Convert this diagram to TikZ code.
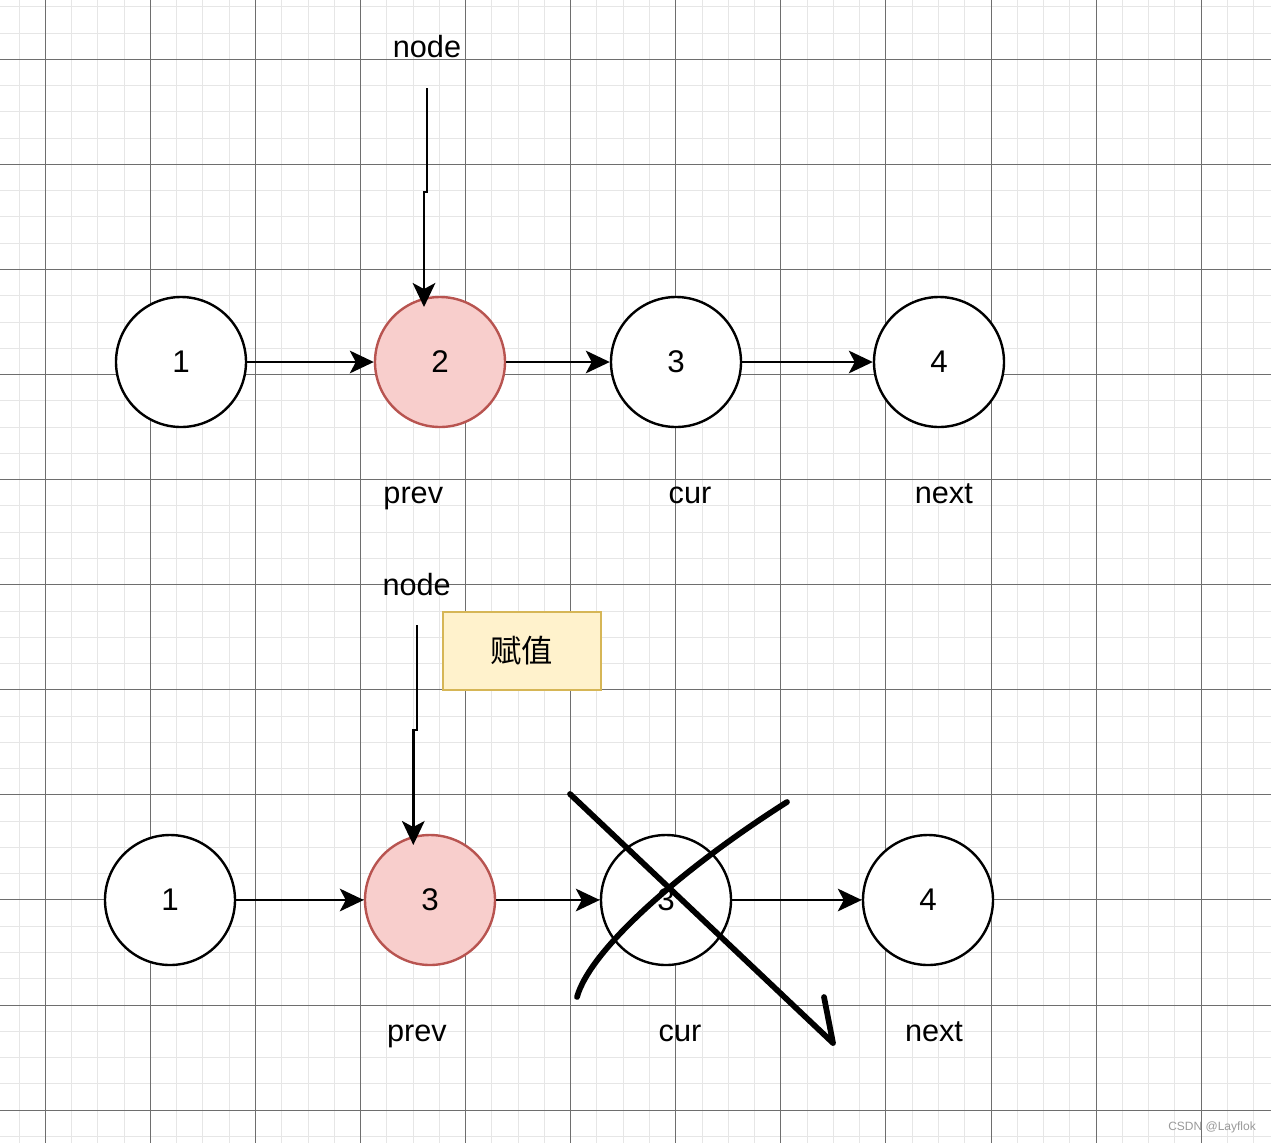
\documentclass[tikz,border=0pt]{standalone}
\usepackage{fontspec}
\setmainfont{Liberation Sans}
\newfontfamily\cjkfont{Noto Sans CJK SC}
\usetikzlibrary{arrows.meta}
\definecolor{pinkfill}{HTML}{F8CECC}
\definecolor{pinkdraw}{HTML}{B85450}
\definecolor{yfill}{HTML}{FFF2CC}
\definecolor{ydraw}{HTML}{D6B656}
\definecolor{minorc}{HTML}{E6E6E6}
\definecolor{majorc}{HTML}{6E6E6E}
\begin{document}
\begin{tikzpicture}[x=0.75pt,y=-0.75pt,
  minorgrid/.style={draw=minorc, line width=0.75pt},
  majorgrid/.style={draw=majorc, line width=0.7pt},
  llnode/.style={circle, draw=black, line width=1.8pt, fill=white, minimum size=97.5pt, inner sep=0pt, font=\fontsize{23.5}{27}\selectfont},
  pinknode/.style={llnode, fill=pinkfill, draw=pinkdraw},
  arr/.style={-{Stealth[length=18pt,width=17pt,inset=4.5pt]}, line width=1.8pt},
  lbl/.style={font=\fontsize{23}{27}\selectfont, anchor=base, inner sep=0pt},
  boxsty/.style={draw=ydraw, fill=yfill, line width=1.8pt, minimum width=118.5pt, minimum height=58.5pt, inner sep=0pt, font=\fontsize{23.5}{27}\selectfont\cjkfont},
  cross/.style={line width=4.3pt, line cap=round, line join=round}
]
\useasboundingbox (0,0) rectangle (1271,1143);
\fill[white] (0,0) rectangle (1271,1143);
\begin{scope}
\clip (0,0) rectangle (1271,1143);
\foreach \i in {0,...,48} {\draw[minorgrid] ({19.03+26.27*\i},0) -- ({19.03+26.27*\i},1143);}
\foreach \i in {0,...,43} {\draw[minorgrid] (0,{6.8+26.27*\i}) -- (1271,{6.8+26.27*\i});}
\foreach \i in {0,...,11} {\draw[majorgrid] ({45.3+105.08*\i},0) -- ({45.3+105.08*\i},1143);}
\foreach \i in {0,...,10} {\draw[majorgrid] (0,{59.3+105.08*\i}) -- (1271,{59.3+105.08*\i});}
\end{scope}

% ---- row 1
\node[llnode] (a1) at (181,362) {1};
\node[pinknode] (a2) at (440,362) {2};
\node[llnode] (a3) at (676,362) {3};
\node[llnode] (a4) at (939,362) {4};
\draw[arr] (a1) -- (a2);
\draw[arr] (a2) -- (a3);
\draw[arr] (a3) -- (a4);
\node[lbl] (nl1) at (427,57.3) {node};
\node[lbl] (p1) at (413.3,503.3) {prev};
\node[lbl] (c1) at (690,503.3) {cur};
\node[lbl] (x1) at (943.8,503.3) {next};
\coordinate (s1) at (427,88);
\coordinate (e1) at (424,307);
\draw[arr] (s1) -- (427,192) -- (424,192) -- (e1);

% ---- row 2
\node[llnode] (b1) at (170,900) {1};
\node[pinknode] (b2) at (430,900) {3};
\node[llnode] (b3) at (666,900) {3};
\node[llnode] (b4) at (928,900) {4};
\draw[arr] (b1) -- (b2);
\draw[arr] (b2) -- (b3);
\draw[arr] (b3) -- (b4);
\node[lbl] (nl2) at (416.7,595) {node};
\node[lbl] (p2) at (417,1041.5) {prev};
\node[lbl] (c2) at (680,1041.5) {cur};
\node[lbl] (x2) at (934,1041.5) {next};
\coordinate (s2) at (416.7,625);
\coordinate (e2) at (413.3,845);
\draw[arr] (s2) -- (416.7,730) -- (413.3,730) -- (e2);
\node[boxsty] (asg) at (521.7,651) {赋值};

% ---- crossing out
\draw[cross] (570,794) -- (833,1043) -- (824,997);
\draw[cross] (577,997) .. controls (590,950) and (680,870) .. (787,802);

\node[anchor=base west, inner sep=0pt, font=\fontsize{9}{10}\selectfont, text=black!40] (wm) at (1168,1130.7) {CSDN @Layflok};
\end{tikzpicture}
\end{document}
